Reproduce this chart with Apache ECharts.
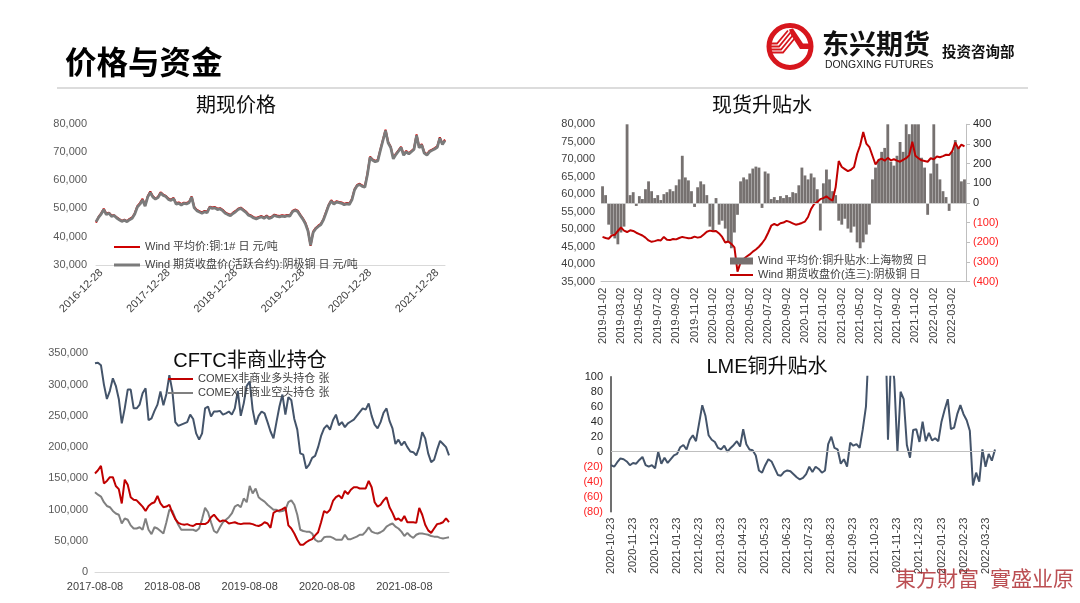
<!DOCTYPE html>
<html><head><meta charset="utf-8">
<script src="https://cdn.jsdelivr.net/npm/echarts@6/dist/echarts.min.js"></script>
<style>html,body{margin:0;padding:0;background:#fff}#c{width:1080px;height:603px}</style>
</head><body><div id="c"></div>
<script>
// ---------- Chart 1: 期现价格 ----------
const c1Ticks = ['2016-12-28','2017-12-28','2018-12-28','2019-12-28','2020-12-28','2021-12-28'];
const c1Futures = [45300,46800,48000,49600,47800,48300,47200,47500,46600,46000,
45400,45800,45300,46000,46500,48000,50500,51500,53000,50800,
54000,55600,54000,53300,53800,55400,54600,54200,53200,52800,
53500,51500,51800,51200,51800,51600,52000,54000,50200,49200,
48700,48300,48800,48500,50400,50000,50200,49600,49800,49200,
48300,47800,47400,48200,48800,49600,50000,49300,48600,47600,
47200,46600,46300,46700,47000,46500,47200,46400,46800,47500,
47200,47000,47300,47100,47400,47300,48800,49300,48900,47500,
46200,44600,42000,37000,41500,42800,43600,44300,46000,48500,
51000,52600,51500,52200,52000,51800,51300,51600,51400,53000,
56500,58000,58400,57800,57500,62000,68000,67000,66500,66800,
70500,74000,77500,73200,71500,67500,69000,70200,71500,68800,
70000,69200,70000,70800,75800,71400,72400,69500,68800,70000,
70500,71000,71600,74800,72600,74000];
const c1Spot = [45000,47000,48300,49900,48100,48500,47500,47600,46900,46200,
45600,46000,45500,46300,46800,48300,50800,51900,53400,51000,
54300,56000,54300,53500,54100,55700,54900,54400,53500,53100,
53700,51800,52100,51500,52000,51900,52300,54200,50500,49500,
49000,48600,49100,48800,50600,50300,50500,49900,50100,49500,
48600,48100,47700,48500,49100,49900,50300,49600,48900,47900,
47500,46900,46600,47000,47300,46800,47500,46700,47100,47800,
47500,47300,47600,47400,47700,47600,49100,49600,49200,47800,
46500,44900,42300,36800,41800,43100,43900,44600,46300,48800,
51300,52900,51800,52500,52300,52100,51600,51900,51700,53300,
56800,58300,58700,58100,57800,62300,68300,67300,66800,67100,
70800,74300,77800,73500,71800,67800,69300,70500,71800,69100,
70300,69500,70300,71100,76100,71700,72700,69800,69100,70300,
70800,71300,71900,75100,72900,74300];

// ---------- Chart 2: 现货升贴水 ----------
const c2Ticks = ['2019-01-02','2019-03-02','2019-05-02','2019-07-02','2019-09-02','2019-11-02',
'2020-01-02','2020-03-02','2020-05-02','2020-07-02','2020-09-02','2020-11-02',
'2021-01-02','2021-03-02','2021-05-02','2021-07-02','2021-09-02','2021-11-02',
'2022-01-02','2022-03-02'];
const c2Basis = [85,40,-110,-160,-180,-210,-150,-120,480,40,
55,-15,35,20,70,110,60,25,40,15,
45,55,70,60,90,120,240,130,115,60,
-20,80,110,95,40,-120,-140,25,-110,-90,
-130,-200,-230,-150,-60,110,130,120,150,175,
185,180,-25,160,150,20,30,15,35,25,
40,30,55,50,90,180,140,120,150,130,
70,-140,100,170,120,60,40,-90,-110,-80,
-130,-150,-120,-200,-230,-200,-160,-110,120,180,
220,260,280,420,210,190,240,310,260,420,
350,430,450,420,230,180,-60,150,420,200,
120,60,30,-40,260,320,280,110,120];
const c2Close = [47800,47500,47300,48200,48400,49500,50500,49600,49200,49700,
49500,49000,48600,48200,47600,46800,46400,46600,46900,46800,
47800,47000,46900,47200,47100,47500,47800,47600,47400,47500,
47900,47600,47800,48500,49300,49600,49400,49500,48800,47800,
46200,46500,45800,44800,37900,40500,41500,42200,42800,43600,
44200,45000,46000,47200,49000,51000,51500,51100,51700,51900,
52400,52100,51700,51300,51500,51800,52200,53500,55800,57200,
57800,58600,58900,59400,58700,58200,62000,69500,67800,67200,
66600,67000,67800,71500,74000,77800,74500,73500,71000,68500,
69800,70200,69600,70400,69700,70000,69600,69300,69800,70300,
71200,75000,71000,70300,69700,69500,69300,70300,70000,70800,
70600,70900,71300,71200,72300,74800,73000,74200,73700];

// ---------- Chart 3: CFTC非商业持仓 ----------
const c3Ticks = ['2017-08-08','2018-08-08','2019-08-08','2020-08-08','2021-08-08'];
const c3Total = [334000,335000,331000,300000,277000,290000,310000,298000,277000,238000,
262000,292000,292000,262000,262000,268000,286000,294000,243000,246000,
258000,268000,289000,267000,285000,315000,290000,240000,234000,236000,
238000,240000,252000,245000,222000,212000,222000,262000,265000,249000,
257000,257000,258000,252000,254000,257000,252000,262000,290000,250000,
270000,298000,305000,260000,236000,250000,257000,254000,240000,225000,
214000,240000,265000,284000,252000,280000,275000,245000,228000,190000,
188000,166000,172000,183000,186000,200000,218000,230000,235000,228000,
243000,252000,235000,240000,232000,238000,241000,244000,250000,256000,
262000,260000,270000,250000,236000,230000,240000,255000,262000,242000,
230000,205000,212000,203000,209000,200000,193000,192000,187000,200000,
224000,214000,190000,176000,180000,196000,210000,205000,200000,187000];
const c3Long = [158000,163000,170000,142000,146000,152000,152000,138000,133000,110000,
148000,140000,120000,116000,115000,110000,105000,98000,106000,110000,
112000,122000,110000,104000,105000,108000,95000,85000,79000,77000,
76000,77000,75000,74000,77000,77000,77000,77000,80000,88000,
92000,86000,81000,83000,82000,78000,79000,80000,78000,77000,
78000,78000,78000,77000,75000,74000,76000,80000,78000,71000,
95000,98000,99000,101000,104000,75000,70000,62000,52000,44000,
44000,48000,51000,53000,59000,64000,80000,98000,95000,100000,
114000,120000,123000,118000,130000,125000,132000,136000,136000,134000,
134000,134000,146000,136000,112000,105000,108000,115000,120000,104000,
95000,84000,86000,82000,90000,80000,80000,80000,79000,103000,
92000,76000,67000,63000,70000,77000,78000,80000,86000,80000];
const c3Short = [128000,124000,121000,112000,106000,104000,98000,94000,92000,78000,
86000,84000,75000,70000,70000,72000,68000,86000,68000,61000,
72000,70000,66000,62000,80000,100000,98000,86000,76000,68000,
68000,68000,68000,68000,66000,70000,85000,103000,96000,80000,
66000,63000,72000,80000,84000,88000,94000,105000,108000,104000,
118000,112000,138000,126000,134000,120000,116000,113000,108000,104000,
100000,100000,97000,98000,100000,112000,115000,108000,92000,68000,
66000,65000,65000,62000,52000,49000,50000,56000,57000,57000,
55000,52000,52000,52000,60000,53000,53000,55000,57000,60000,
60000,65000,72000,65000,63000,62000,64000,67000,73000,76000,
78000,73000,70000,65000,58000,63000,58000,55000,60000,62000,
62000,61000,60000,58000,57000,57000,55000,54000,55000,56000];

// ---------- Chart 4: LME铜升贴水 ----------
const c4Ticks = ['2020-10-23','2020-11-23','2020-12-23','2021-01-23','2021-02-23','2021-03-23',
'2021-04-23','2021-05-23','2021-06-23','2021-07-23','2021-08-23','2021-09-23',
'2021-10-23','2021-11-23','2021-12-23','2022-01-23','2022-02-23','2022-03-23'];
const c4Spread = [-18,-20,-14,-9,-10,-13,-18,-15,-16,-11,
-7,-18,-20,-18,-22,0,-16,-8,-15,-10,
-5,-3,6,9,3,16,22,14,38,62,
48,22,16,13,5,3,8,0,5,9,
14,7,30,10,3,2,-5,-25,-28,-18,
-10,-13,-22,-31,-32,-27,-25,-26,-30,-34,
-37,-35,-30,-20,-27,-20,-23,-28,-25,10,
20,5,3,-16,-10,-20,12,8,10,5,
30,60,150,320,600,450,300,200,16,130,
96,0,80,70,9,-8,29,30,13,40,
14,25,15,18,14,40,56,70,30,32,
50,62,50,42,28,-45,-28,-40,3,-20,
-3,-12,3];

// ---------- helpers ----------
const FONT = "'Liberation Sans','Noto Sans CJK SC',sans-serif";
function buildCats(n, first, step, ticks) {
  const out = [];
  for (let i = 0; i < n; i++) {
    const r = i - first;
    if (r >= 0 && r % step === 0 && ticks[r / step] !== undefined) out.push(ticks[r / step]);
    else out.push('c' + i);
  }
  return out;
}
function tickFn(first, step, count) {
  return (idx) => idx >= first && (idx - first) % step === 0 && (idx - first) / step < count;
}
const comma = v => String(v).replace(/\B(?=(\d{3})+(?!\d))/g, ',');
const paren = v => (v < 0 ? '{r|(' + (-v) + ')}' : '{k|' + v + '}');

const cat1 = buildCats(c1Futures.length, 2, 26, c1Ticks);
const cat2 = buildCats(c2Close.length, 0, 6, c2Ticks);
const cat3 = buildCats(c3Total.length, 0, 26, c3Ticks);
const cat4 = buildCats(c4Spread.length, 0, 7, c4Ticks);

const N1A = 'Wind 平均价:铜:1# 日 元/吨';
const N1B = 'Wind 期货收盘价(活跃合约):阴极铜 日 元/吨';
const N2A = 'Wind 平均价:铜升贴水:上海物贸 日';
const N2B = 'Wind 期货收盘价(连三):阴极铜 日';
const N3A = 'COMEX非商业多头持仓 张';
const N3B = 'COMEX非商业空头持仓 张';

const lblColor = '#404040';
const titleStyle = { fontSize: 20, fontWeight: 'normal', color: '#0d0d0d', fontFamily: FONT };
const legendCommon = { padding: 0, itemGap: 0, selectedMode: false, icon: 'rect',
  textStyle: { fontSize: 11, color: lblColor, fontFamily: FONT } };
const richRK = { r: { color: '#ff2020', fontSize: 11, fontFamily: FONT }, k: { color: '#262626', fontSize: 11, fontFamily: FONT } };

const option = {
  animation: false,
  backgroundColor: '#fff',
  textStyle: { fontFamily: FONT },
  title: [
    { text: '价格与资金', left: 65, top: 46, padding: 0,
      textStyle: { fontSize: 31.5, fontWeight: 'bold', color: '#000', fontFamily: "'Noto Sans CJK SC',sans-serif" } },
    { text: '期现价格', left: 236, top: 96, textAlign: 'center', padding: 0, textStyle: titleStyle },
    { text: '现货升贴水', left: 762, top: 96, textAlign: 'center', padding: 0, textStyle: titleStyle },
    { text: 'CFTC非商业持仓', left: 250, top: 351, textAlign: 'center', padding: 0, textStyle: titleStyle },
    { text: 'LME铜升贴水', left: 767, top: 357, textAlign: 'center', padding: 0, textStyle: titleStyle }
  ],
  legend: [
    Object.assign({}, legendCommon, { data: [N1A], left: 114, top: 241.5, itemWidth: 26, itemHeight: 2 }),
    Object.assign({}, legendCommon, { data: [N1B], left: 114, top: 259.5, itemWidth: 26, itemHeight: 3 }),
    Object.assign({}, legendCommon, { data: [N2A], left: 730, top: 255.5, itemWidth: 23, itemHeight: 7 }),
    Object.assign({}, legendCommon, { data: [N2B], left: 730, top: 269.5, itemWidth: 23, itemHeight: 2 }),
    Object.assign({}, legendCommon, { data: [N3A], left: 168, top: 373.5, itemWidth: 25, itemHeight: 2 }),
    Object.assign({}, legendCommon, { data: [N3B], left: 168, top: 387.5, itemWidth: 25, itemHeight: 2 })
  ],
  grid: [
    { left: 96, top: 123.5, width: 349, height: 141.5, outerBoundsMode: 'none' },
    { left: 601, top: 124.3, width: 365, height: 157.4, outerBoundsMode: 'none' },
    { left: 95, top: 353.3, width: 354, height: 219, outerBoundsMode: 'none' },
    { left: 611, top: 376.7, width: 384, height: 135, outerBoundsMode: 'none' }
  ],
  xAxis: [
    { type: 'category', gridIndex: 0, data: cat1, boundaryGap: false,
      axisLine: { onZero: false, lineStyle: { color: '#d9d9d9', width: 1 } }, axisTick: { show: false },
      axisLabel: { interval: tickFn(2, 26, c1Ticks.length), rotate: 45, margin: 6, fontSize: 11, color: lblColor } },
    { type: 'category', gridIndex: 1, data: cat2, boundaryGap: true,
      axisLine: { onZero: false, lineStyle: { color: '#bfbfbf', width: 1 } }, axisTick: { show: false },
      axisLabel: { interval: tickFn(0, 6, c2Ticks.length), rotate: 90, margin: 6, fontSize: 11, color: lblColor } },
    { type: 'category', gridIndex: 2, data: cat3, boundaryGap: false,
      axisLine: { onZero: false, lineStyle: { color: '#d9d9d9', width: 1 } }, axisTick: { show: false },
      axisLabel: { interval: tickFn(0, 26, c3Ticks.length), margin: 9, fontSize: 11, color: lblColor } },
    { type: 'category', gridIndex: 3, data: cat4, boundaryGap: false,
      axisLine: { show: false, onZero: false }, axisTick: { show: false },
      axisLabel: { interval: tickFn(0, 7, c4Ticks.length), rotate: 90, margin: 6, fontSize: 11, color: lblColor } }
  ],
  yAxis: [
    { type: 'value', gridIndex: 0, min: 30000, max: 80000, interval: 10000,
      axisLine: { show: false }, axisTick: { show: false }, splitLine: { show: false },
      axisLabel: { formatter: comma, margin: 9, fontSize: 11, color: '#595959' } },
    { type: 'value', gridIndex: 1, position: 'left', min: 35000, max: 80000, interval: 5000,
      axisLine: { show: false }, axisTick: { show: false }, splitLine: { show: false },
      axisLabel: { formatter: comma, margin: 6, fontSize: 11, color: lblColor } },
    { type: 'value', gridIndex: 1, position: 'right', min: -400, max: 400, interval: 100,
      axisLine: { show: true, lineStyle: { color: '#bfbfbf' } },
      axisTick: { show: true, length: 4, lineStyle: { color: '#bfbfbf' } }, splitLine: { show: false },
      axisLabel: { formatter: paren, rich: richRK, margin: 7 } },
    { type: 'value', gridIndex: 2, min: 0, max: 350000, interval: 50000,
      axisLine: { show: false }, axisTick: { show: false }, splitLine: { show: false },
      axisLabel: { formatter: comma, margin: 7, fontSize: 11, color: '#595959' } },
    { type: 'value', gridIndex: 3, min: -80, max: 100, interval: 20,
      axisLine: { show: true, lineStyle: { color: '#404040', width: 1.5 } },
      axisTick: { show: false }, splitLine: { show: false },
      axisLabel: { formatter: paren, rich: richRK, margin: 8 } }
  ],
  series: [
    { name: N1A, type: 'line', xAxisIndex: 0, yAxisIndex: 0, data: c1Spot, showSymbol: false, color: '#d00000',
      lineStyle: { color: '#d00000', width: 2 } },
    { name: N1B, type: 'line', xAxisIndex: 0, yAxisIndex: 0, data: c1Futures, showSymbol: false, color: '#7b7b7b',
      lineStyle: { color: '#7b7b7b', width: 2.8 } },
    { name: N2A, type: 'bar', xAxisIndex: 1, yAxisIndex: 2, data: c2Basis, color: '#767170',
      barCategoryGap: '8%', barGap: '0%', itemStyle: { color: '#767170' },
      markLine: { silent: true, symbol: 'none', label: { show: false },
        lineStyle: { color: '#cfcfcf', width: 1, type: 'solid' }, data: [{ yAxis: 0 }] } },
    { name: N2B, type: 'line', xAxisIndex: 1, yAxisIndex: 1, data: c2Close, showSymbol: false, color: '#c00000',
      lineStyle: { color: '#c00000', width: 2 } },
    { name: 'COMEX铜总持仓', type: 'line', xAxisIndex: 2, yAxisIndex: 3, data: c3Total, showSymbol: false, color: '#44546a',
      lineStyle: { color: '#44546a', width: 2 } },
    { name: N3B, type: 'line', xAxisIndex: 2, yAxisIndex: 3, data: c3Short, showSymbol: false, color: '#808080',
      lineStyle: { color: '#808080', width: 2 } },
    { name: N3A, type: 'line', xAxisIndex: 2, yAxisIndex: 3, data: c3Long, showSymbol: false, color: '#c00000',
      lineStyle: { color: '#c00000', width: 2 } },
    { name: 'LME铜升贴水', type: 'line', xAxisIndex: 3, yAxisIndex: 4, data: c4Spread, showSymbol: false, color: '#44546a',
      lineStyle: { color: '#44546a', width: 2 },
      markLine: { silent: true, symbol: 'none', label: { show: false },
        lineStyle: { color: '#bfbfbf', width: 1, type: 'solid' }, data: [{ yAxis: 0 }] } }
  ],
  graphic: [
    { type: 'line', shape: { x1: 57, y1: 88, x2: 1028, y2: 88 }, style: { stroke: '#dcdcdc', lineWidth: 2 }, silent: true },
    { type: 'circle', shape: { cx: 790, cy: 46.5, r: 21 }, style: { fill: 'none', stroke: '#d7161d', lineWidth: 5 }, silent: true },
    { type: 'polyline', shape: { points: [[768,43.5],[777,43.5],[788,30.5]] }, style: { stroke: '#d7161d', lineWidth: 1.8, fill: null }, silent: true },
    { type: 'polyline', shape: { points: [[768,46.5],[779,46.5],[790.5,32.5]] }, style: { stroke: '#d7161d', lineWidth: 1.8, fill: null }, silent: true },
    { type: 'polyline', shape: { points: [[768,49.5],[781,49.5],[793,35]] }, style: { stroke: '#d7161d', lineWidth: 1.8, fill: null }, silent: true },
    { type: 'polyline', shape: { points: [[769,52.5],[783,52.5],[795,38]] }, style: { stroke: '#d7161d', lineWidth: 1.8, fill: null }, silent: true },
    { type: 'polygon', shape: { points: [[789,29.5],[793,28.5],[803,43.5],[812,43.5],[812,49],[800,49],[791,35]] }, style: { fill: '#d7161d' }, silent: true },
    { type: 'text', style: { x: 822, y: 44, text: '东兴期货', fill: '#111', font: "bold 27px 'Noto Sans CJK SC',sans-serif", textVerticalAlign: 'middle' }, silent: true },
    { type: 'text', style: { x: 825, y: 65, text: 'DONGXING FUTURES', fill: '#222', font: "10.4px 'Liberation Sans',sans-serif", textVerticalAlign: 'middle' }, silent: true },
    { type: 'text', style: { x: 942, y: 51, text: '投资咨询部', fill: '#111', font: "bold 14.5px 'Noto Sans CJK SC',sans-serif", textVerticalAlign: 'middle' }, silent: true },
    { type: 'text', z: 100, style: { x: 895, y: 578, text: '東方財富', fill: 'rgba(170,35,40,0.8)', font: "21px 'Noto Sans CJK TC',sans-serif", textVerticalAlign: 'middle' }, silent: true },
    { type: 'text', z: 100, style: { x: 990, y: 578, text: '實盛业原', fill: 'rgba(170,35,40,0.8)', font: "21px 'Noto Sans CJK TC',sans-serif", textVerticalAlign: 'middle' }, silent: true }
  ]
};
const chart = echarts.init(document.getElementById('c'), null, { renderer: 'canvas', width: 1080, height: 603 });
chart.setOption(option);
</script>
</body></html>
